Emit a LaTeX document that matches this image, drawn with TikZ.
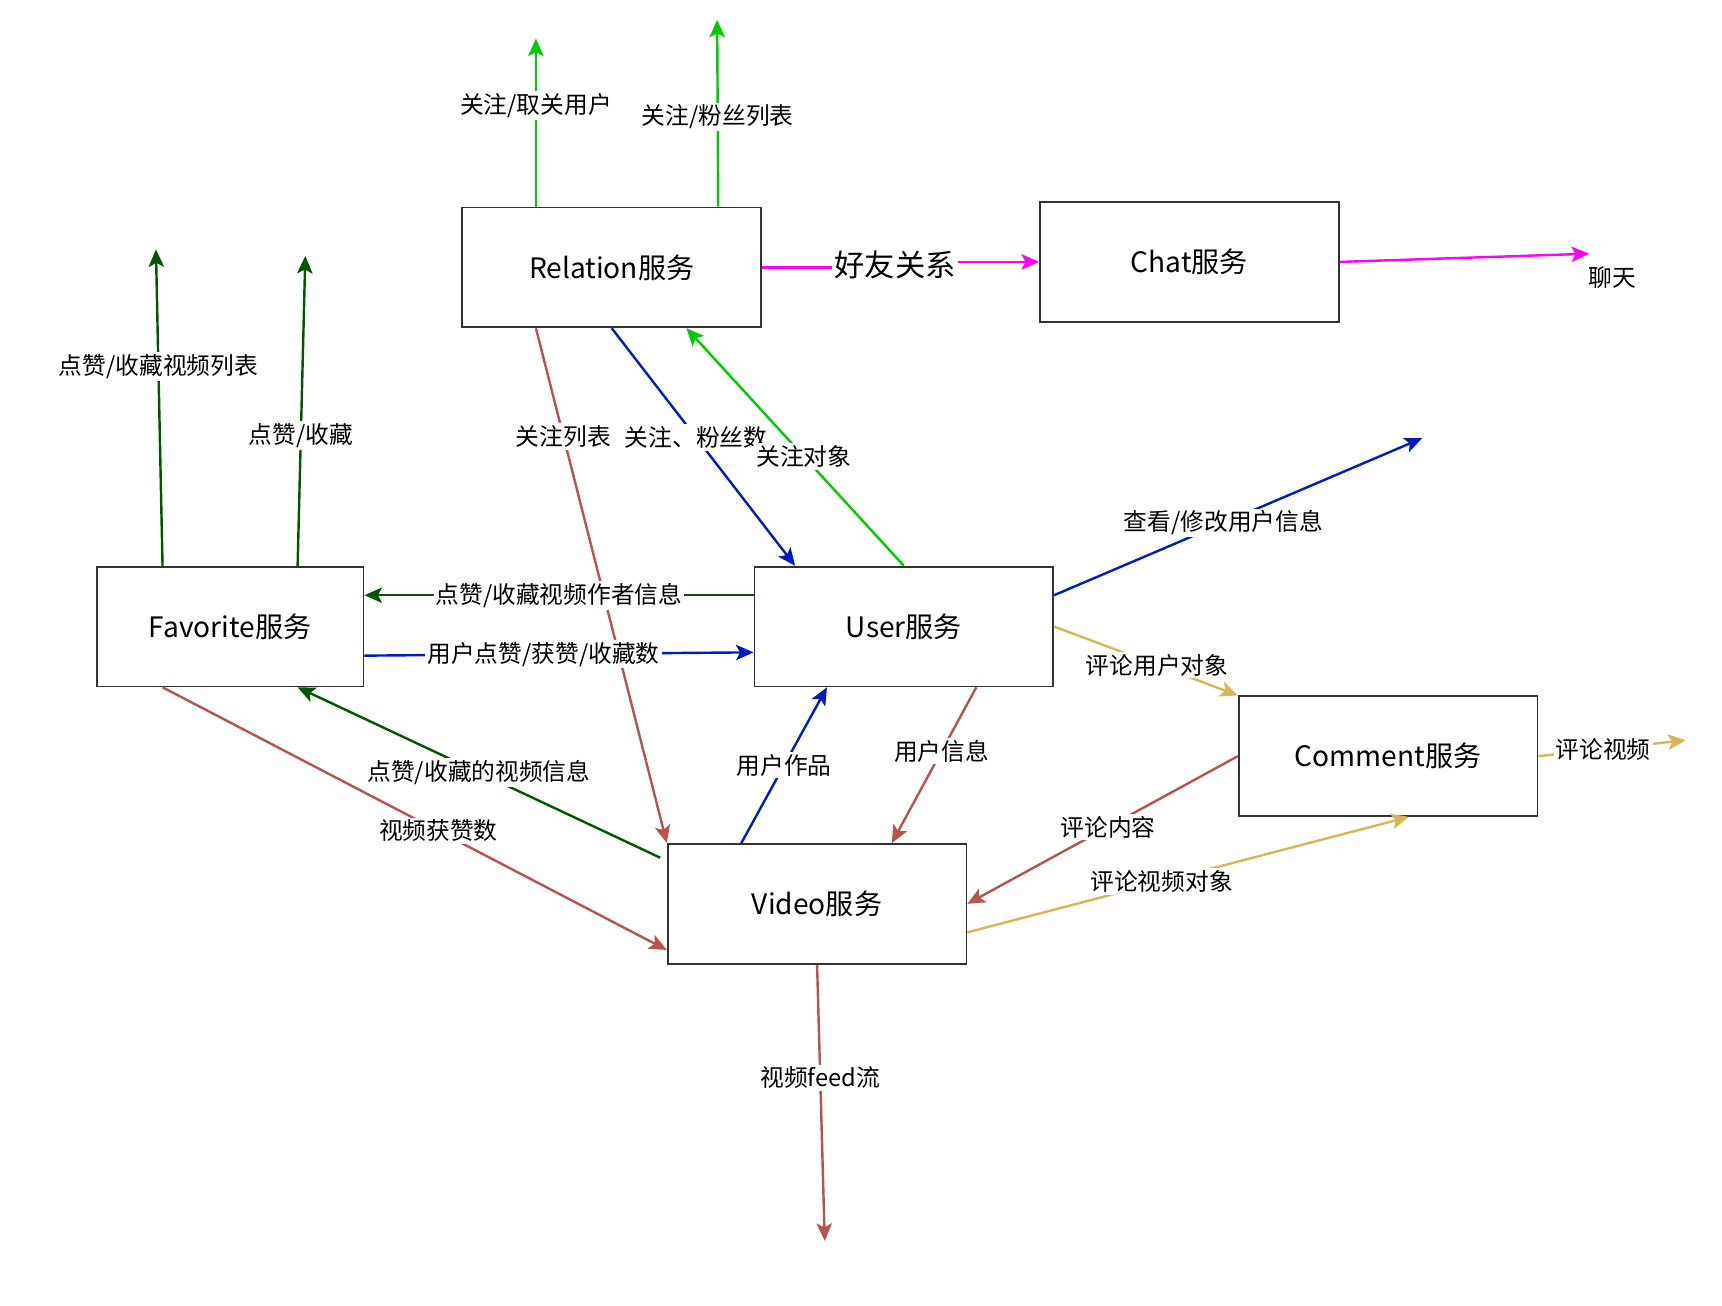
\documentclass[tikz,border=0pt]{standalone}
\usepackage{fontspec}
\setmainfont{Noto Sans CJK SC}
\usetikzlibrary{arrows.meta,calc}
\definecolor{cgreen}{HTML}{00CC00}
\definecolor{dgreen}{HTML}{005700}
\definecolor{cblue}{HTML}{001DBC}
\definecolor{cred}{HTML}{B85450}
\definecolor{cyellow}{HTML}{D6B656}
\definecolor{cmag}{HTML}{FF00FF}
\begin{document}
\begin{tikzpicture}[x=0.5pt,y=-0.5pt,
  box/.style={draw=black!80, line width=0.8pt, minimum width=136pt, minimum height=54.5pt, inner sep=0pt, font=\fontsize{12.8}{14}\selectfont},
  conn/.style={line width=1.1pt, -{Stealth[length=8pt,width=7pt,inset=1.8pt]}},
  lbl/.style={fill=white, inner sep=1pt, font=\fontsize{10.8}{12}\selectfont},
  biglbl/.style={fill=white, inner sep=1pt, font=\fontsize{13.8}{15}\selectfont},
]
\useasboundingbox (0,0) rectangle (1568,1189);

% boxes
\node[box] (rel) at (557,243.5) {Relation服务};
\node[box] (chat) at (1083,238.5) {Chat服务};
\node[box, minimum width=121.5pt] (fav) at (209.5,570.5) {Favorite服务};
\node[box] (user) at (823,570.5) {User服务};
\node[box] (com) at (1264,688.5) {Comment服务};
\node[box] (vid) at (744,823) {Video服务};

% free ends
\coordinate (relup1) at (488,35);
\coordinate (relup2) at (653,18);
\coordinate (chatend) at (1447,231);
\coordinate (favup1) at (142,227);
\coordinate (favup2) at (278,233);
\coordinate (userend) at (1295,399);
\coordinate (comend) at (1535,674);
\coordinate (vidend) at (751,1130);
\coordinate (jog) at (815,0);

% Relation
\draw[conn, cgreen] ([xshift=-34.5pt]rel.north) -- (relup1) node[lbl, pos=0.6, text=black] {关注/取关用户};
\draw[conn, cgreen] ([xshift=48.5pt]rel.north) -- (relup2) node[lbl, pos=0.48, text=black] {关注/粉丝列表};
\draw[conn, cmag] (rel.east) -- (rel.east -| jog) -- (chat.west -| jog) node[biglbl, midway, text=black] {好友关系} -- (chat.west);
\draw[conn, cmag] (chat.east) -- (chatend);
\node[lbl, fill=none] (chatlbl) at (1468,253) {聊天};
\draw[conn, cred] ([xshift=-34.5pt]rel.south) -- (vid.north west) node[lbl, pos=0.21, text=black] {关注列表};
\draw[conn, cblue] (rel.south) -- ([xshift=-49.5pt]user.north) node[lbl, pos=0.46, text=black] {关注、粉丝数};
\draw[conn, cgreen] (user.north) -- ([xshift=34pt]rel.south) node[lbl, pos=0.46, text=black] {关注对象};

% Favorite
\draw[conn, dgreen] ([xshift=-30.75pt]fav.north) -- (favup1) node[lbl, pos=0.63, text=black] {点赞/收藏视频列表};
\draw[conn, dgreen] ([xshift=30.75pt]fav.north) -- (favup2) node[lbl, pos=0.42, text=black] {点赞/收藏};
\draw[conn, dgreen] ([yshift=14.25pt]user.west) -- ([yshift=14.25pt]fav.east) node[lbl, pos=0.5, text=black] {点赞/收藏视频作者信息};
\draw[conn, cblue] ([yshift=-13.25pt]fav.east) -- ([yshift=-11.75pt]user.west) node[lbl, pos=0.46, text=black] {用户点赞/获赞/收藏数};
\draw[conn, cred] ([xshift=-30.75pt]fav.south) -- ([yshift=-21pt]vid.west) node[lbl, pos=0.547, text=black] {视频获赞数};
\draw[conn, dgreen] ([yshift=21pt,xshift=-3pt]vid.west) -- ([xshift=30.75pt]fav.south) node[lbl, pos=0.5, text=black] {点赞/收藏的视频信息};

% User
\draw[conn, cblue] ([yshift=14.25pt]user.east) -- (userend) node[lbl, pos=0.46, text=black] {查看/修改用户信息};
\draw[conn, cyellow] (user.east) -- (com.north west) node[lbl, pos=0.56, text=black] {评论用户对象};
\draw[conn, cblue] ([xshift=-34.5pt]vid.north) -- ([xshift=-35pt]user.south) node[lbl, pos=0.5, text=black] {用户作品};
\draw[conn, cred] ([xshift=33pt]user.south) -- ([xshift=34pt]vid.north) node[lbl, pos=0.41, text=black] {用户信息};

% Comment / Video
\draw[conn, cred] (com.west) -- (vid.east) node[lbl, pos=0.48, text=black] {评论内容};
\draw[conn, cyellow] ([yshift=-13pt]vid.east) -- ([xshift=9.5pt]com.south) node[lbl, pos=0.44, text=black] {评论视频对象};
\draw[conn, cyellow] (com.east) -- (comend) node[lbl, pos=0.44, text=black] {评论视频};
\draw[conn, cred] (vid.south) -- (vidend) node[lbl, pos=0.41, text=black] {视频feed流};
\end{tikzpicture}
\end{document}
